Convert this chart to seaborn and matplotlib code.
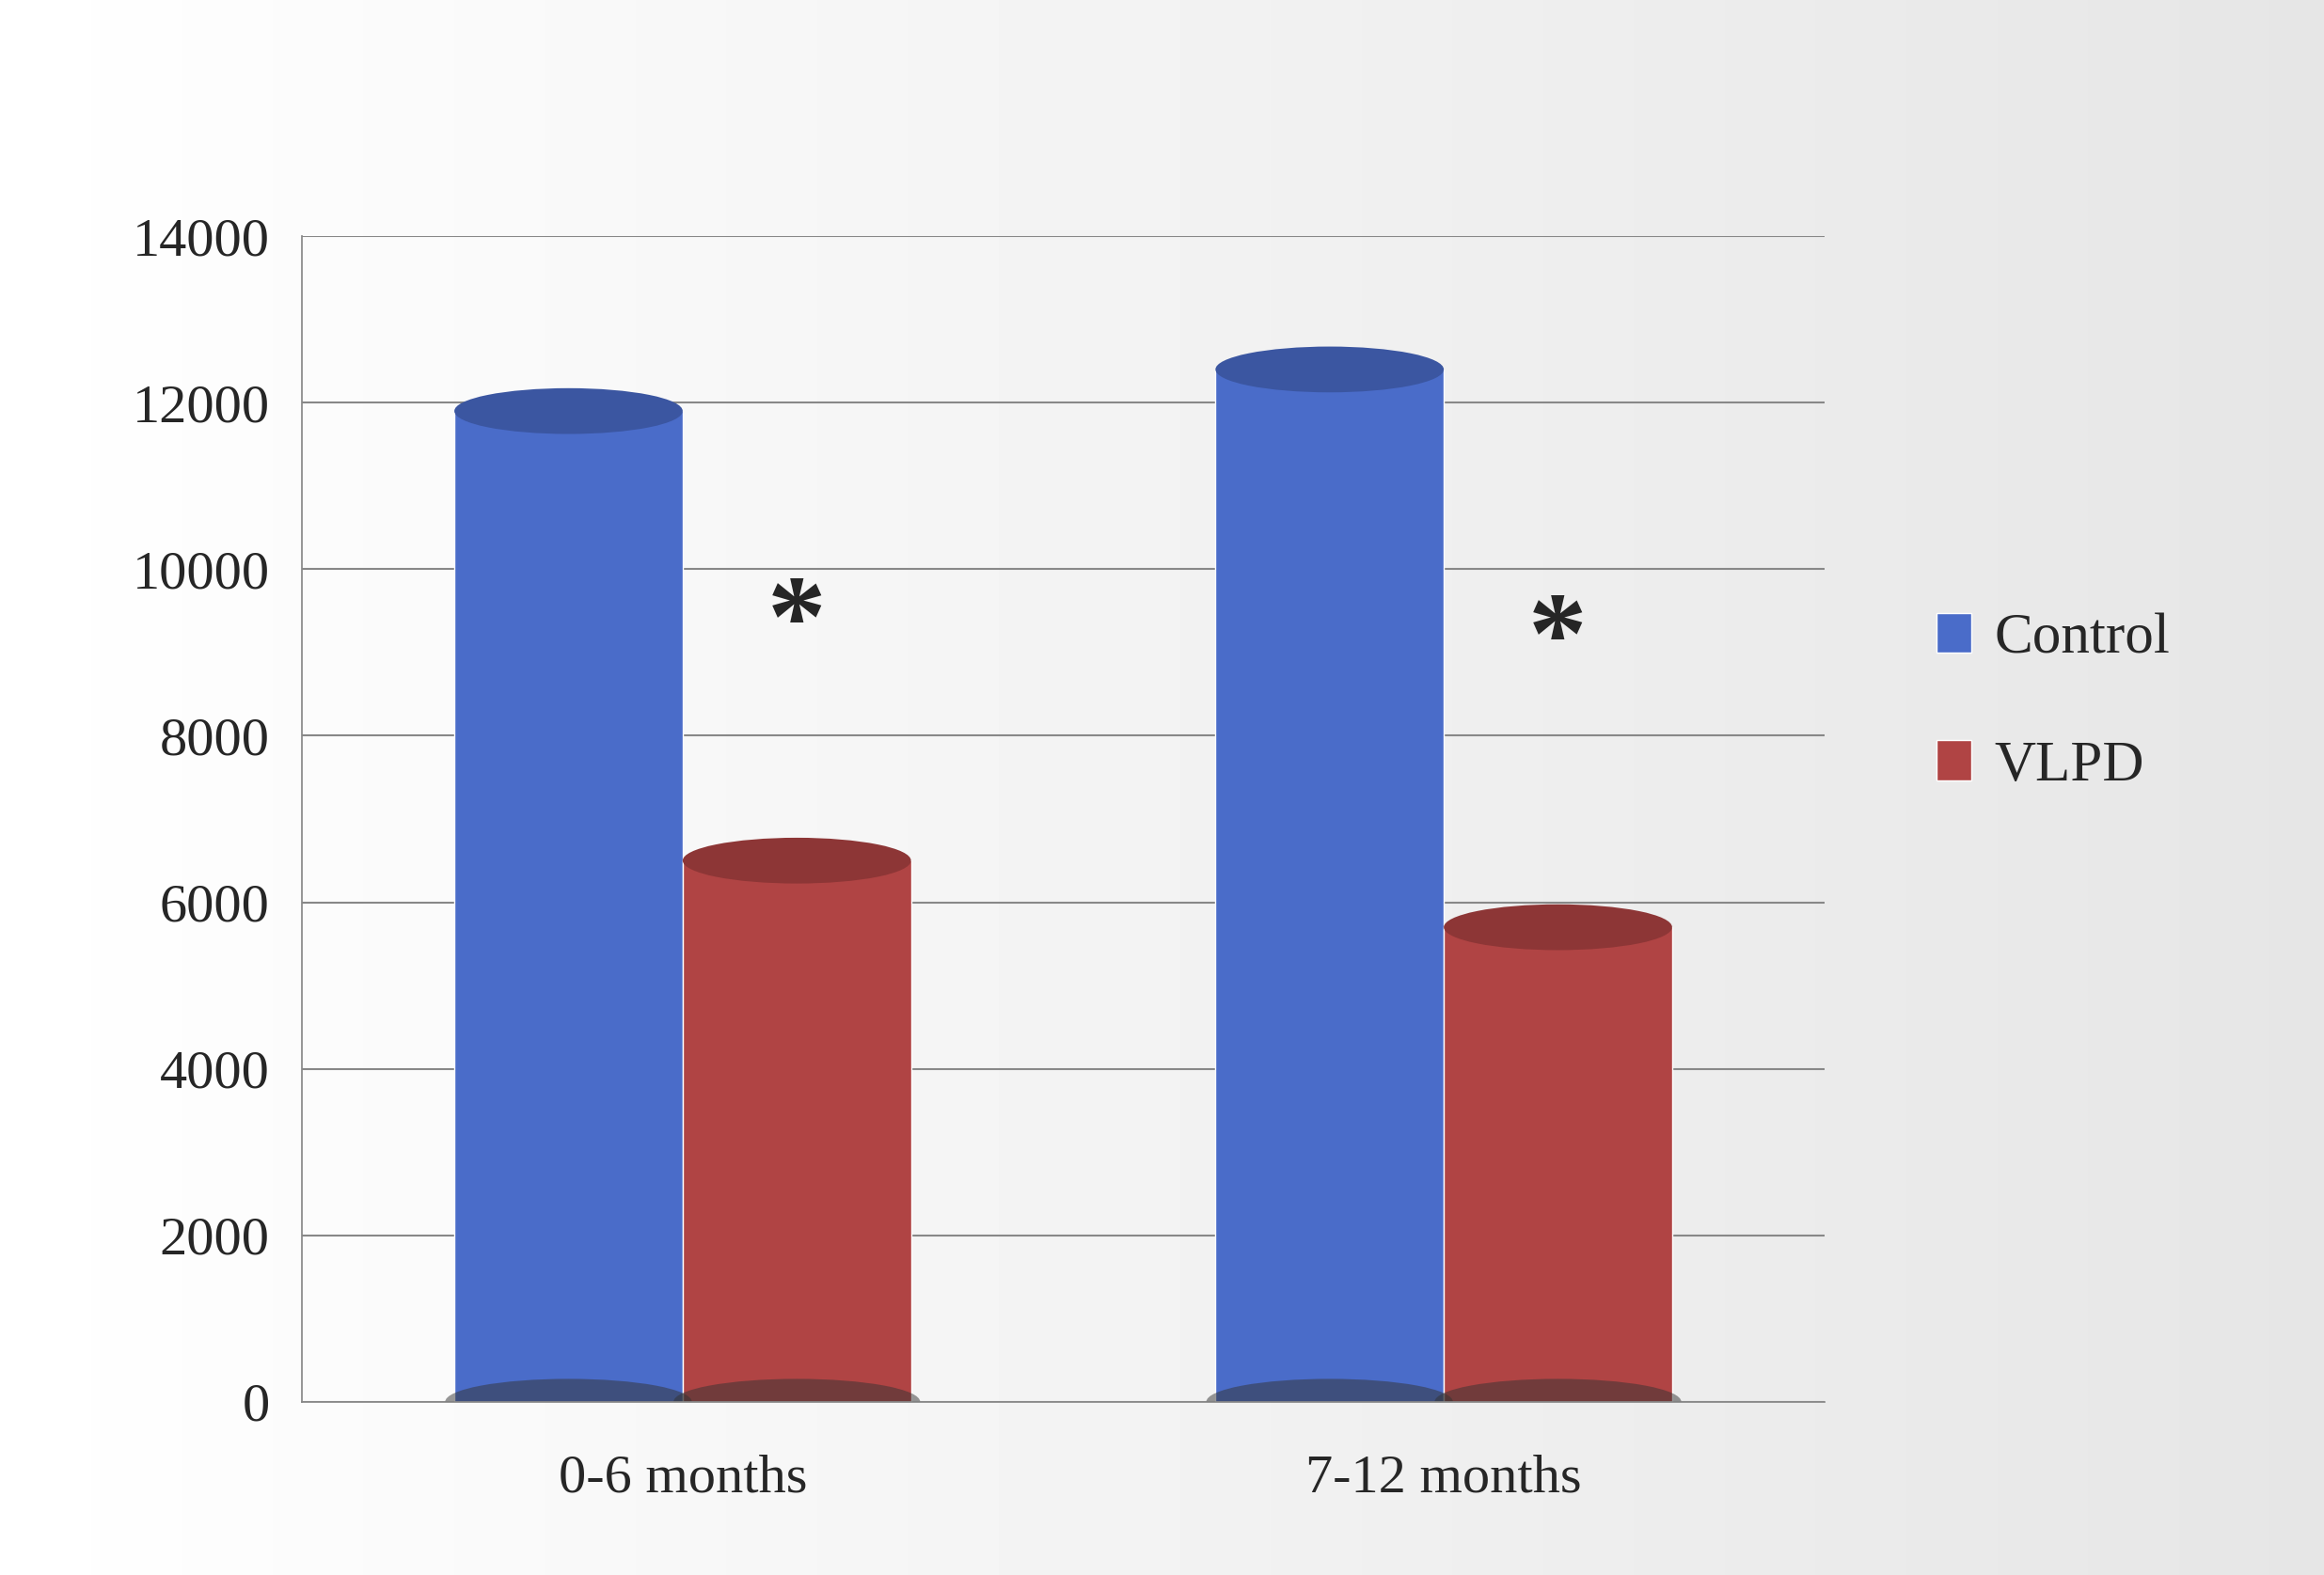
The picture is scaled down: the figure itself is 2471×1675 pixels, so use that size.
import matplotlib
matplotlib.use("Agg")
import matplotlib.pyplot as plt
import seaborn as sns
import numpy as np
import pandas as pd
from matplotlib.patches import Ellipse

categories = ["0-6 months", "7-12 months"]
control = [11900, 12400]
vlpd = [6500, 5700]
series = ["Control", "VLPD"]

df = pd.DataFrame({"period": categories * 2,
                   "group": ["Control"] * 2 + ["VLPD"] * 2,
                   "value": control + vlpd})

sns.set_theme(style="white")
plt.rcParams['font.family'] = ['Liberation Serif', 'DejaVu Serif']
fig = plt.figure(figsize=(24.71, 16.75), dpi=100)
bg = fig.add_axes([0, 0, 1, 1])
grad = np.linspace(1, 0.9, 256).reshape(1, -1)
bg.imshow(grad, aspect="auto", cmap="gray", vmin=0, vmax=1, extent=[0, 1, 0, 1])
bg.axis("off")

ax = fig.add_axes([0.13, 0.11, 0.655, 0.74])
ax.patch.set_alpha(0)
colors = {"Control": "#4a6cc9", "VLPD": "#b04444"}
sns.barplot(data=df, x="period", y="value", hue="group", palette=colors,
            ax=ax, width=0.6, dodge=True, legend=True, saturation=1)
ax.set_ylim(0, 14000)
ax.set_yticks(range(0, 14001, 2000))
ax.yaxis.grid(True, color="#888888", linewidth=1.5)
ax.set_axisbelow(True)
ax.set_xlabel("")
ax.set_ylabel("")
ax.tick_params(axis="y", labelsize=42, length=0, pad=25)
ax.tick_params(axis="x", labelsize=42, length=0, pad=40)
for s in ["top", "right"]:
    ax.spines[s].set_visible(False)
ax.spines["left"].set_color("#888888")
ax.spines["bottom"].set_color("#888888")

for p in ax.patches:
    if p.get_height() <= 0:
        continue
    x = p.get_x() + p.get_width() / 2
    w = p.get_width()
    h = p.get_height()
    fc = p.get_facecolor()
    dark = tuple(np.array(fc[:3]) * 0.8)
    ax.add_patch(Ellipse((x, h), w, 550, facecolor=dark, edgecolor="none", zorder=5))
    ax.add_patch(Ellipse((x, 0), w * 1.08, 550, facecolor="#333333", alpha=0.5,
                         edgecolor="none", zorder=1))

for i, v in enumerate(vlpd):
    ax.text(i + 0.15, 9300 - i * 200, "*", fontsize=90, fontweight="bold",
            ha="center", va="center")

leg = ax.legend(loc="center left", bbox_to_anchor=(1.04, 0.6), frameon=False,
                fontsize=44, handlelength=0.6, handleheight=0.7, labelspacing=1.3,
                handletextpad=0.4)
plt.savefig("out.png", dpi=100)
